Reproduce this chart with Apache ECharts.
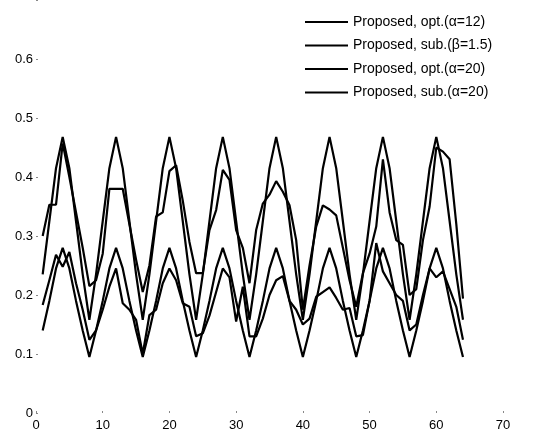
<!DOCTYPE html>
<html>
<head>
<meta charset="utf-8">
<script src="https://cdn.jsdelivr.net/npm/echarts@6/dist/echarts.min.js"></script>
<style>
html,body{margin:0;padding:0;background:#fff;}
#chart{width:539px;height:436px;}
</style>
</head>
<body>
<div id="chart"></div>
<script>
// x positions (samples)
var xValues = [];
for (var i = 1; i <= 64; i++) xValues.push(i);

var seriesNames = [
  'Proposed, opt.(\u03b1=12)',
  'Proposed, sub.(\u03b2=1.5)',
  'Proposed, opt.(\u03b1=20)',
  'Proposed, sub.(\u03b1=20)'
];

// upper optimal curve
var optUpper = [
  0.235,0.325,0.415,0.468,0.415,0.325,0.235,0.158,
  0.235,0.325,0.415,0.468,0.415,0.325,0.235,0.158,
  0.235,0.325,0.415,0.468,0.415,0.325,0.235,0.158,
  0.235,0.325,0.415,0.468,0.415,0.325,0.235,0.158,
  0.235,0.325,0.415,0.468,0.415,0.325,0.235,0.158,
  0.235,0.325,0.415,0.468,0.415,0.325,0.235,0.158,
  0.235,0.325,0.415,0.468,0.415,0.325,0.235,0.158,
  0.235,0.325,0.415,0.468,0.415,0.325,0.235,0.158
];

// upper suboptimal curve
var subUpper = [
  0.300,0.353,0.353,0.457,0.400,0.340,0.280,0.215,
  0.225,0.270,0.380,0.380,0.380,0.320,0.260,0.205,
  0.250,0.333,0.340,0.410,0.420,0.360,0.290,0.237,
  0.237,0.310,0.344,0.412,0.395,0.310,0.280,0.220,
  0.310,0.355,0.370,0.393,0.375,0.352,0.293,0.175,
  0.250,0.316,0.352,0.345,0.335,0.280,0.225,0.180,
  0.237,0.270,0.316,0.430,0.340,0.293,0.285,0.200,
  0.210,0.293,0.350,0.450,0.443,0.430,0.320,0.194
];

// lower optimal curve
var optLower = [
  0.140,0.190,0.245,0.280,0.245,0.190,0.140,0.095,
  0.140,0.190,0.245,0.280,0.245,0.190,0.140,0.095,
  0.140,0.190,0.245,0.280,0.245,0.190,0.140,0.095,
  0.140,0.190,0.245,0.280,0.245,0.190,0.140,0.095,
  0.140,0.190,0.245,0.280,0.245,0.190,0.140,0.095,
  0.140,0.190,0.245,0.280,0.245,0.190,0.140,0.095,
  0.140,0.190,0.245,0.280,0.245,0.190,0.140,0.095,
  0.140,0.190,0.245,0.280,0.245,0.190,0.140,0.095
];

// lower suboptimal curve
var subLower = [
  0.183,0.225,0.268,0.248,0.273,0.220,0.175,0.124,
  0.140,0.175,0.214,0.245,0.186,0.175,0.158,0.100,
  0.166,0.175,0.220,0.245,0.225,0.186,0.180,0.130,
  0.135,0.165,0.205,0.245,0.230,0.155,0.214,0.130,
  0.130,0.160,0.200,0.225,0.232,0.190,0.175,0.150,
  0.160,0.197,0.205,0.213,0.195,0.175,0.178,0.130,
  0.132,0.190,0.288,0.240,0.220,0.200,0.190,0.140,
  0.150,0.200,0.245,0.230,0.240,0.210,0.180,0.124
];

var xTicks = [0,10,20,30,40,50,60,70];
var yTicks = [0,0.1,0.2,0.3,0.4,0.5,0.6];

function pairs(vals) {
  return xValues.map(function (x, i) { return [x, vals[i]]; });
}

var FONT = '"Liberation Sans", Arial, Helvetica, sans-serif';
var allData = [optUpper, subUpper, optLower, subLower];

var chart = echarts.init(document.getElementById('chart'), null, {renderer: 'canvas'});
chart.setOption({
  animation: false,
  backgroundColor: '#ffffff',
  grid: {left: 36, right: 36, top: 0, bottom: 23, containLabel: false},
  legend: {
    orient: 'vertical',
    left: 300,
    top: 10,
    itemWidth: 43,
    itemHeight: 2,
    itemGap: 9.5,
    icon: 'rect',
    textStyle: {fontFamily: FONT, fontSize: 14, color: '#000'},
    data: seriesNames
  },
  xAxis: {
    type: 'value',
    min: xTicks[0],
    max: xTicks[xTicks.length - 1],
    interval: 10,
    axisLine: {show: false},
    axisTick: {show: true, inside: true, length: 2, lineStyle: {color: '#888'}},
    splitLine: {show: false},
    axisLabel: {fontFamily: FONT, fontSize: 13, color: '#000', margin: 6}
  },
  yAxis: {
    type: 'value',
    min: 0,
    max: 0.7,
    interval: 0.1,
    axisLine: {show: false},
    axisTick: {show: true, inside: true, length: 2, lineStyle: {color: '#888'}},
    splitLine: {show: false},
    axisLabel: {
      fontFamily: FONT, fontSize: 13, color: '#000', margin: 3,
      formatter: function (v) {
        var r = Math.round(v * 10) / 10;
        if (yTicks.indexOf(r) < 0) return '';
        return r === 0 ? '0' : r.toFixed(1);
      }
    }
  },
  series: seriesNames.map(function (name, k) {
    return {
      name: name,
      type: 'line',
      data: pairs(allData[k]),
      symbol: 'none',
      lineStyle: {color: '#000', width: 2.2},
      itemStyle: {color: '#000'}
    };
  })
});
</script>
</body>
</html>
